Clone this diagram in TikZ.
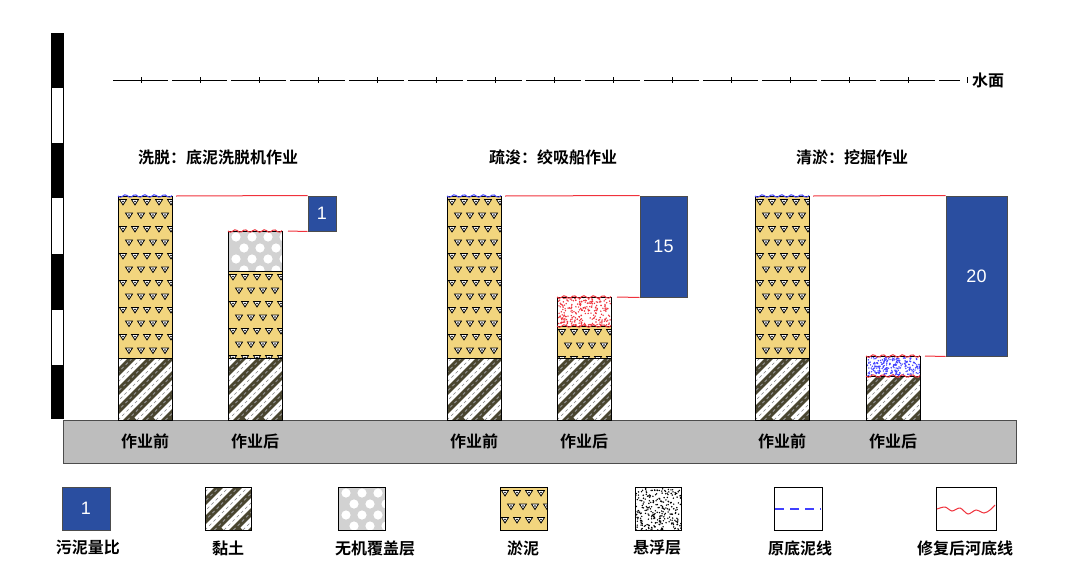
\documentclass[tikz,border=0pt]{standalone}
\usepackage{fontspec}
\setmainfont{Liberation Sans}
\newfontfamily\cjk{Noto Sans CJK SC}[BoldFont={Noto Sans CJK SC Bold}]
\definecolor{siltc}{HTML}{F2D57E}
\definecolor{clayc}{HTML}{4A4630}
\definecolor{boxc}{HTML}{2A4EA0}
\definecolor{gndc}{HTML}{BDBDBD}
\definecolor{redl}{HTML}{F0323C}
\tikzset{
  lab/.style={font=\cjk\bfseries\fontsize{16}{16}\selectfont,inner sep=0pt},
  ratio/.style={draw=black!70,line width=1pt,fill=boxc,text=white,font=\fontsize{18}{18}\selectfont,inner sep=0pt},
  rl/.style={redl,line width=1pt},
  frame/.style={draw=black,line width=1pt}
}
\newcommand\siltfill[4]{%
 \begin{scope}\fill[siltc] (#1,#2) rectangle (#3,#4); \clip (#1,#2) rectangle (#3,#4);
 \foreach \yy in {0,...,13}{\foreach \xx in {0,...,4}{%
  \pgfmathsetmacro\px{#1+5+\xx*12+mod(\yy,2)*6}\pgfmathsetmacro\py{#2+6+\yy*13.5}%
  \draw[black,fill=white,line width=.8pt] (\px-3.5,\py-2.5) -- (\px+3.5,\py-2.5) -- (\px,\py+3) -- cycle;
  \fill[black] (\px,\py-.5) circle (0.9);}}
 \end{scope}\draw[frame] (#1,#2) rectangle (#3,#4);}
\newcommand\clayfill[4]{%
 \begin{scope}\fill[clayc] (#1,#2) rectangle (#3,#4); \clip (#1,#2) rectangle (#3,#4);
 \foreach \k in {-6,...,6}{\draw[white,line width=7pt] (#1+\k*19,#4) -- ++(120,-120);
  \draw[gray!80,dashed,line width=.8pt] (#1+\k*19+9.5,#4) -- ++(120,-120);
  \draw[black!50,dashed,line width=.6pt] (#1+\k*19,#4) -- ++(120,-120);}
 \end{scope}\draw[frame] (#1,#2) rectangle (#3,#4);}
\newcommand\coverfill[4]{%
 \begin{scope}\fill[gray!35] (#1,#2) rectangle (#3,#4); \clip (#1,#2) rectangle (#3,#4);
 \foreach \yy in {0,...,4}{\foreach \xx in {0,...,3}{%
  \pgfmathsetmacro\px{#1+8+\xx*16+mod(\yy,2)*8}\pgfmathsetmacro\py{#2+6+\yy*11}%
  \fill[white] (\px,\py) circle (4.6);}}
 \end{scope}\draw[frame] (#1,#2) rectangle (#3,#4);}
\newcommand\suspfill[5]{%
 \begin{scope}\fill[white] (#1,#2) rectangle (#3,#4); \clip (#1,#2) rectangle (#3,#4);
 \foreach \i in {1,...,260}{\pgfmathsetmacro\rx{#1+rnd*(#3-#1)}\pgfmathsetmacro\ry{#2+rnd*(#4-#2)}%
  \fill[#5] (\rx,\ry) circle (0.8);}
 \end{scope}\draw[frame] (#1,#2) rectangle (#3,#4);}
\newcommand\wavy[4]{\draw[#4,line width=1pt] plot[domain=#1:#2,samples=25] (\x,{#3+1.3*sin((\x-#1)*37)});}
\begin{document}
\begin{tikzpicture}[x=1pt,y=-1pt]
\pgfmathsetseed{7}
\useasboundingbox (0,0) rectangle (1080,584);
% scale bar
\draw[black,line width=.8pt] (51,33) rectangle (63,418);
\foreach \a/\b in {33/88,143/198,254/310,365/418} \fill[black] (51,\a) rectangle (63,\b);
% ground
\draw[fill=gndc,draw=black!70,line width=1pt] (63,420) rectangle (1016,463);
% water line
\draw[black,line width=.8pt,dash pattern=on 55pt off 4pt] (113,80) -- (960,80);
\foreach \t in {0,...,14} \draw[black,line width=.6pt] (141+\t*59,77) -- (141+\t*59,83);
\node[lab,anchor=west] (water) at (972,80) {水面};
% titles
\node[lab] (t1) at (218,157) {洗脱：底泥洗脱机作业};
\node[lab] (t2) at (553,157) {疏浚：绞吸船作业};
\node[lab] (t3) at (852,157) {清淤：挖掘作业};
% group 1
\siltfill{118}{196}{172}{358}\clayfill{118}{358}{172}{420}\wavy{118}{172}{196}{blue!70}
\coverfill{228}{231}{282}{271}\siltfill{228}{271}{282}{358}\clayfill{228}{358}{282}{420}\wavy{228}{282}{231}{redl}
\node[ratio,minimum width=28pt,minimum height=35pt] (b1) at (322,213.5) {1};
\draw[rl] (176,196) -- (b1.north west);
\draw[rl] (288,231) -- (b1.south west);
% group 2
\siltfill{447}{196}{501}{358}\clayfill{447}{358}{501}{420}\wavy{447}{501}{196}{blue!70}
\suspfill{557}{297}{611}{326}{redl}\siltfill{557}{326}{611}{358}\clayfill{557}{358}{611}{420}
\wavy{557}{611}{297}{redl}\wavy{557}{611}{326}{redl}
\node[ratio,minimum width=47pt,minimum height=101pt] (b2) at (663.5,246.5) {15};
\draw[rl] (505,196) -- (b2.north west);
\draw[rl] (617,297) -- (b2.south west);
% group 3
\siltfill{755}{196}{809}{358}\clayfill{755}{358}{809}{420}\wavy{755}{809}{196}{blue!70}
\suspfill{866}{356}{920}{376}{blue!75}\clayfill{866}{376}{920}{420}
\wavy{866}{920}{356}{redl}\wavy{866}{920}{376}{redl}
\node[ratio,minimum width=61pt,minimum height=160pt] (b3) at (976.5,276) {20};
\draw[rl] (813,196) -- (b3.north west);
\draw[rl] (925,356) -- (b3.south west);
% column labels
\foreach \n/\x/\s in {a/145/作业前,b/255/作业后,c/474/作业前,d/584/作业后,e/782/作业前,f/893/作业后}
  \node[lab] (c\n) at (\x,441) {\s};
% legend
\node[ratio,minimum width=48pt,minimum height=43pt] (l1) at (86,508.5) {1};
\clayfill{205}{487}{251}{530}
\coverfill{338}{487}{385}{530}
\siltfill{500}{487}{547}{530}
\suspfill{635}{487}{681}{530}{black}
\draw[frame,fill=white] (774,487) rectangle (822,530);
\draw[blue!75,line width=1.2pt,dash pattern=on 9pt off 6pt] (775,509) -- (821,509);
\draw[frame,fill=white] (936,487) rectangle (996,530);
\draw[redl,line width=1pt] plot[smooth] coordinates {(937,509)(945,507)(952,511)(960,508)(968,514)(976,510)(984,513)(990,510)(995,505)};
\node[lab] (m1) at (88,548) {污泥量比};
\node[lab] (m2) at (228,548) {黏土};
\node[lab] (m3) at (375,548) {无机覆盖层};
\node[lab] (m4) at (523,548) {淤泥};
\node[lab] (m5) at (657,548) {悬浮层};
\node[lab] (m6) at (800,548) {原底泥线};
\node[lab] (m7) at (965,548) {修复后河底线};
\end{tikzpicture}
\end{document}
